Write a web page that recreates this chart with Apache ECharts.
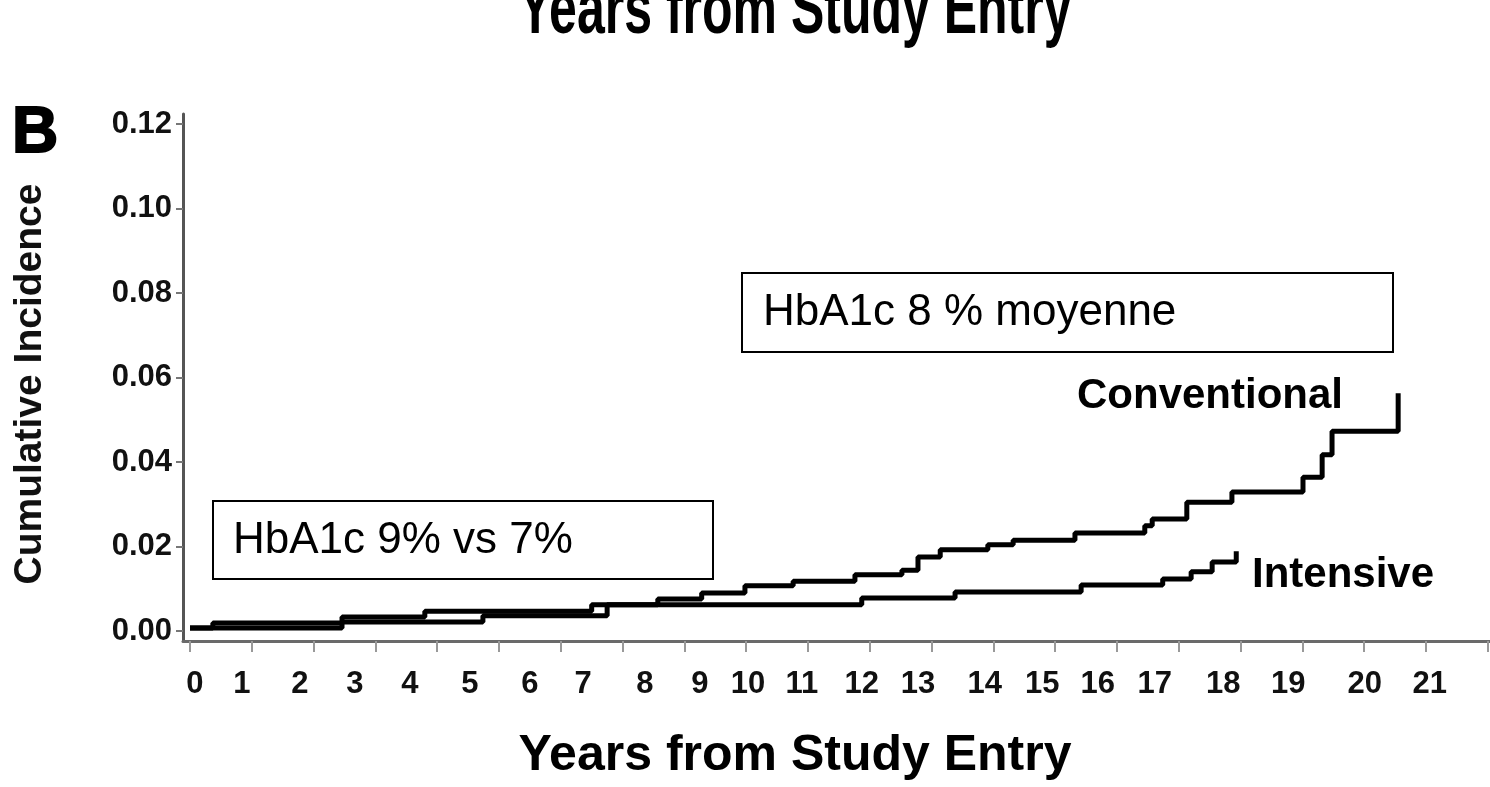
<!DOCTYPE html>
<html>
<head>
<meta charset="utf-8">
<script src="https://cdn.jsdelivr.net/npm/echarts@6/dist/echarts.min.js"></script>
<style>
  html, body { margin: 0; padding: 0; background: #fff; }
  #chart { width: 1490px; height: 787px; }
</style>
</head>
<body>
<div id="chart"></div>
<script>
// Time points (one axis unit per tick) where each cumulative-incidence step begins
const convTimes = [0, 0.37, 2.46, 3.80, 6.50, 7.57, 8.28, 8.98, 9.76, 10.76, 11.52, 11.78,
  12.14, 12.91, 13.32, 14.32, 15.45, 15.57, 16.13, 16.86, 18.01, 18.32, 18.48, 19.55];
const convIncidence = [0.0007, 0.0019, 0.0033, 0.0047, 0.0062, 0.0076, 0.0090, 0.0107, 0.0118,
  0.0133, 0.0144, 0.0175, 0.0192, 0.0204, 0.0215, 0.0232, 0.0249, 0.0265, 0.0305, 0.0329,
  0.0364, 0.0417, 0.0473, 0.0563];

const intTimes = [0, 2.46, 4.74, 6.75, 10.87, 12.38, 14.42, 15.74, 16.20, 16.54, 16.93];
const intIncidence = [0.0007, 0.0021, 0.0036, 0.0062, 0.0078, 0.0092, 0.0109, 0.0123, 0.0140,
  0.0163, 0.0189];

// Axis ticks and labels
const xTicks = [0, 1, 2, 3, 4, 5, 6, 7, 8, 9, 10, 11, 12, 13, 14, 15, 16, 17, 18, 19, 20, 21];
const yearLabels = ['0', '1', '2', '3', '4', '5', '6', '7', '8', '9', '10', '11', '12', '13',
  '14', '15', '16', '17', '18', '19', '20', '21'];
const yearLabelAt = [0.08, 0.84, 1.78, 2.67, 3.56, 4.53, 5.50, 6.36, 7.36, 8.25, 9.03, 9.90,
  10.87, 11.78, 12.86, 13.79, 14.69, 15.61, 16.72, 17.77, 19.01, 20.06];
const yTicks = [0, 0.02, 0.04, 0.06, 0.08, 0.10, 0.12];

const pairs = (xs, ys) => xs.map((x, i) => [x, ys[i]]);
const FONT = '"Liberation Sans", Arial, Helvetica, sans-serif';

const chart = echarts.init(document.getElementById('chart'), null, { renderer: 'canvas' });

chart.setOption({
  animation: false,
  backgroundColor: '#ffffff',
  grid: { left: 183, right: 0, top: 114, bottom: 146, containLabel: false },
  xAxis: {
    type: 'value',
    min: -0.113,
    max: 21.036,
    splitLine: { show: false },
    axisLine: { onZero: false, lineStyle: { color: '#6a6a6a', width: 3 } },
    axisTick: {
      customValues: xTicks,
      length: 11,
      lineStyle: { color: '#999999', width: 2 }
    },
    axisLabel: {
      customValues: yearLabelAt,
      margin: 28,
      color: '#111111',
      fontFamily: FONT,
      fontWeight: 'bold',
      fontSize: 31,
      formatter: function (v) {
        const i = yearLabelAt.findIndex(p => Math.abs(p - v) < 1e-6);
        return i >= 0 ? yearLabels[i] : '';
      }
    }
  },
  yAxis: {
    type: 'value',
    min: -0.00237,
    max: 0.12237,
    splitLine: { show: false },
    axisLine: { onZero: false, lineStyle: { color: '#555555', width: 3 } },
    axisTick: {
      customValues: yTicks,
      length: 7,
      lineStyle: { color: '#777777', width: 2 }
    },
    axisLabel: {
      customValues: yTicks,
      margin: 11,
      color: '#111111',
      fontFamily: FONT,
      fontWeight: 'bold',
      fontSize: 31,
      formatter: v => v.toFixed(2)
    }
  },
  series: [
    {
      name: 'Conventional',
      type: 'line',
      step: 'end',
      showSymbol: false,
      lineStyle: { color: '#000000', width: 5 },
      data: pairs(convTimes, convIncidence)
    },
    {
      name: 'Intensive',
      type: 'line',
      step: 'end',
      showSymbol: false,
      lineStyle: { color: '#000000', width: 5 },
      data: pairs(intTimes, intIncidence)
    }
  ],
  graphic: [
    // upper heading, partly outside the canvas and stretched vertically
    {
      type: 'text', x: 795, y: 50, scaleY: 1.5,
      style: { text: 'Years from Study Entry', x: 0, y: 0, align: 'center', verticalAlign: 'bottom',
        font: 'bold 50px ' + FONT, fill: '#000' }
    },
    // panel letter
    {
      type: 'text', x: 12, y: 102,
      style: { text: 'B', align: 'left', verticalAlign: 'top', font: 'bold 64px ' + FONT,
        fill: '#000', stroke: '#000', lineWidth: 2 }
    },
    // y-axis title
    {
      type: 'text', x: 30, y: 384, rotation: Math.PI / 2,
      style: { text: 'Cumulative Incidence', align: 'center', verticalAlign: 'middle',
        font: 'bold 39px ' + FONT, fill: '#111' }
    },
    // x-axis title
    {
      type: 'text', x: 795, y: 756,
      style: { text: 'Years from Study Entry', align: 'center', verticalAlign: 'middle',
        font: 'bold 50px ' + FONT, fill: '#000' }
    },
    // annotation boxes
    {
      type: 'rect', shape: { x: 213, y: 501, width: 500, height: 78 },
      style: { fill: '#fff', stroke: '#000', lineWidth: 2 }
    },
    {
      type: 'text', x: 233, y: 541,
      style: { text: 'HbA1c 9% vs 7%', align: 'left', verticalAlign: 'middle',
        font: '44px ' + FONT, fill: '#000' }
    },
    {
      type: 'rect', shape: { x: 742, y: 273, width: 651, height: 79 },
      style: { fill: '#fff', stroke: '#000', lineWidth: 2 }
    },
    {
      type: 'text', x: 763, y: 313,
      style: { text: 'HbA1c 8 % moyenne', align: 'left', verticalAlign: 'middle',
        font: '44px ' + FONT, fill: '#000' }
    },
    // curve labels
    {
      type: 'text', x: 1077, y: 396,
      style: { text: 'Conventional', align: 'left', verticalAlign: 'middle',
        font: 'bold 42px ' + FONT, fill: '#000' }
    },
    {
      type: 'text', x: 1252, y: 575,
      style: { text: 'Intensive', align: 'left', verticalAlign: 'middle',
        font: 'bold 42px ' + FONT, fill: '#000' }
    }
  ]
});
</script>
</body>
</html>
